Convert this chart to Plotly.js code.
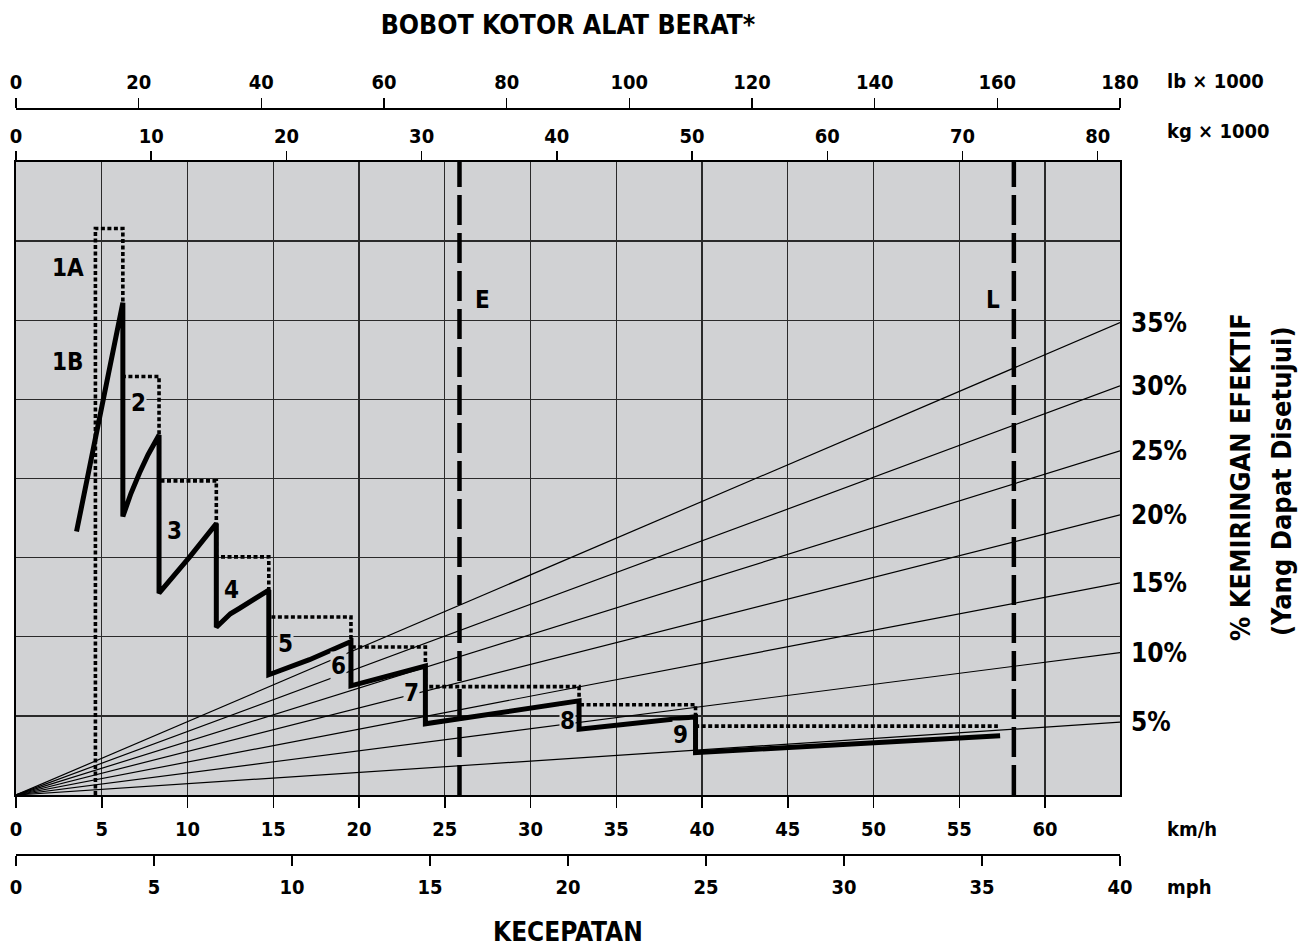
<!DOCTYPE html>
<html>
<head>
<meta charset="utf-8">
<script src="https://cdn.plot.ly/plotly-3.0.1.min.js"></script>
<style>html,body{margin:0;padding:0;background:#fff;}#chart{width:1304px;height:949px;}</style>
</head>
<body>
<div id="chart"></div>
<script>
// ---------- DATA ----------
// tick labels of the four scales
const kmhTicks = [0, 5, 10, 15, 20, 25, 30, 35, 40, 45, 50, 55, 60];
const mphTicks = [0, 5, 10, 15, 20, 25, 30, 35, 40];
const kgTicks  = [0, 10, 20, 30, 40, 50, 60, 70, 80];
const lbTicks  = [0, 20, 40, 60, 80, 100, 120, 140, 160, 180];

// scale extents (40 mph = 64.37 km/h ; 180 000 lb = 81.65 t)
const kmhMax = 64.37, mphMax = 40, kgMax = 81.65, lbMax = 180;

// solid curve (gears 1B..9): speed km/h, force in grid units
const solidSpeed   = [3.53, 6.23, 6.23, 6.7, 7.2, 7.7, 8.34, 8.34, 10.13, 11.68, 11.68, 12.1, 12.5, 13.04, 13.9, 14.74, 14.74, 17.11, 19.53, 19.53, 23.87, 23.87, 32.83, 32.83, 39.62, 39.62, 57.38];
const solidForce   = [3.33, 6.22, 3.52, 3.81, 4.07, 4.30, 4.55, 2.55, 3.01, 3.43, 2.12, 2.21, 2.29, 2.36, 2.48, 2.59, 1.52, 1.71, 1.94, 1.38, 1.63, 0.90, 1.19, 0.83, 0.99, 0.535, 0.75];

// dotted curve (1A and the upper steps)
const dottedSpeed  = [4.63, 4.63, 6.23, 6.23, 8.34, 8.34, 11.68, 11.68, 14.74, 14.74, 19.53, 19.53, 23.87, 23.87, 32.83, 32.83, 39.62, 39.62, 57.25];
const dottedForce  = [0, 7.16, 7.16, 5.29, 5.29, 3.97, 3.97, 3.01, 3.01, 2.25, 2.25, 1.87, 1.87, 1.37, 1.37, 1.14, 1.14, 0.87, 0.87];

// effective grade lines: value reached at the right edge (max weight)
const gradeLabels  = ['5%', '10%', '15%', '20%', '25%', '30%', '35%'];
const gradeForceAtMax = [0.92, 1.80, 2.68, 3.54, 4.35, 5.17, 5.97];

// weight markers (kg x 1000)
const weightNames = ['E', 'L'];
const weightKg    = [32.8, 73.8];

// gear labels
const gearNames = ['1A', '1B', '2', '3', '4', '5', '6', '7', '8', '9'];
const gearLabelSpeed = [3.03, 3.03, 7.16, 9.25, 12.57, 15.72, 18.8, 23.05, 32.13, 38.77];
const gearLabelForce = [6.66, 5.47, 4.96, 3.34, 2.59, 1.91, 1.63, 1.29, 0.94, 0.76];

// ---------- STYLE ----------
const FONT = '"Liberation Sans Narrow", "DejaVu Sans Condensed", "Roboto", sans-serif';
const BG = '#d1d2d4';
const GRID = '#2a2a2a';
const tf = {family: FONT, size: 20, color: '#000', weight: 'bold'};

const traces = [];
// grade lines on the weight (lb) scale
gradeForceAtMax.forEach((v, i) => {
  traces.push({x: [0, lbMax], y: [0, v], xaxis: 'x3', yaxis: 'y', mode: 'lines',
    line: {color: '#000', width: 1.2}, hoverinfo: 'skip', showlegend: false});
});
// E / L weight lines (kg scale)
weightKg.forEach((w, i) => {
  traces.push({x: [w, w], y: [0, 8], xaxis: 'x4', yaxis: 'y', mode: 'lines',
    line: {color: '#000', width: 4.5, dash: '30px,8px'}, hoverinfo: 'skip', showlegend: false});
});
// empty trace so the mph scale is drawn
traces.push({x: [], y: [], xaxis: 'x2', yaxis: 'y', mode: 'lines', hoverinfo: 'skip', showlegend: false});
// dotted curve
traces.push({x: dottedSpeed, y: dottedForce, xaxis: 'x', yaxis: 'y', mode: 'lines',
  line: {color: '#000', width: 3.6, dash: '4px,2.5px'}, hoverinfo: 'skip', showlegend: false});
// solid curve
traces.push({x: solidSpeed, y: solidForce, xaxis: 'x', yaxis: 'y', mode: 'lines',
  line: {color: '#000', width: 5}, hoverinfo: 'skip', showlegend: false});

// plot area rows: 162..795 px ; paper 40..909 px
const PT = 40, PB = 40, H = 949, W = 1304, L = 16, R = 184;
const paperH = H - PT - PB, paperW = W - L - R;
const py = px => (H - PB - px) / paperH;   // pixel row -> paper y
const pxX = px => (px - L) / paperW;        // pixel col -> paper x

const annotations = [];
gearNames.forEach((g, i) => {
  annotations.push({x: gearLabelSpeed[i], y: gearLabelForce[i], xref: 'x', yref: 'y', text: g,
    showarrow: false, xanchor: 'center', yanchor: 'middle',
    font: {family: FONT, size: 24, color: '#000', weight: 'bold'}, bgcolor: BG, borderpad: 0});
});
// E / L labels
annotations.push({x: weightKg[0], y: 6.26, xref: 'x4', yref: 'y', text: weightNames[0], showarrow: false,
  xanchor: 'left', yanchor: 'middle', xshift: 14, font: {family: FONT, size: 24, color: '#000', weight: 'bold'}});
annotations.push({x: weightKg[1], y: 6.26, xref: 'x4', yref: 'y', text: weightNames[1], showarrow: false,
  xanchor: 'right', yanchor: 'middle', xshift: -12, font: {family: FONT, size: 24, color: '#000', weight: 'bold'}});
// grade labels on the right
gradeLabels.forEach((t, i) => {
  annotations.push({x: pxX(1129), y: gradeForceAtMax[i], xref: 'paper', yref: 'y', text: t,
    showarrow: false, xanchor: 'left', yanchor: 'middle', font: {family: FONT, size: 26, color: '#000', weight: 'bold'}});
});
// units
const unitFont = {family: FONT, size: 20, color: '#000', weight: 'bold'};
[['lb × 1000', 81], ['kg × 1000', 131], ['km/h', 829], ['mph', 887]].forEach(u => {
  annotations.push({x: pxX(1165), y: py(u[1]), xref: 'paper', yref: 'paper', text: u[0],
    showarrow: false, xanchor: 'left', yanchor: 'middle', font: unitFont});
});
// axis titles
annotations.push({x: 0.5, y: py(932), xref: 'paper', yref: 'paper', text: 'KECEPATAN',
  showarrow: false, xanchor: 'center', yanchor: 'middle', font: {family: FONT, size: 26, color: '#000', weight: 'bold'}});
annotations.push({x: pxX(1240), y: py(477), xref: 'paper', yref: 'paper', text: '% KEMIRINGAN EFEKTIF',
  showarrow: false, xanchor: 'center', yanchor: 'middle', textangle: -90,
  font: {family: FONT, size: 27, color: '#000', weight: 'bold'}});
annotations.push({x: pxX(1281), y: py(481), xref: 'paper', yref: 'paper', text: '(Yang Dapat Disetujui)',
  showarrow: false, xanchor: 'center', yanchor: 'middle', textangle: -90,
  font: {family: FONT, size: 27, color: '#000', weight: 'bold'}});

const layout = {
  width: W, height: H,
  margin: {l: L, r: R, t: PT, b: PB, pad: 0},
  paper_bgcolor: '#fff', plot_bgcolor: BG,
  showlegend: false,
  title: {text: 'BOBOT KOTOR ALAT BERAT*', x: 0.5, xref: 'paper', xanchor: 'center',
    y: 1 - 25 / H, yref: 'container', yanchor: 'middle',
    font: {family: FONT, size: 26.5, color: '#000', weight: 'bold'}},
  yaxis: {domain: [py(795), py(162)], range: [0, 8], dtick: 1, tick0: 0, showticklabels: false,
    ticks: '', showgrid: true, gridcolor: GRID, gridwidth: 1.4, zeroline: false,
    showline: true, mirror: true, linecolor: '#000', linewidth: 2, fixedrange: true},
  xaxis: {range: [0, kmhMax], tickmode: 'array', tickvals: kmhTicks, ticktext: kmhTicks.map(String),
    ticks: 'outside', ticklen: 11, tickwidth: 1.5, tickcolor: '#000', tickfont: tf, ticklabelstandoff: 4,
    showgrid: true, gridcolor: GRID, gridwidth: 1.4, zeroline: false,
    showline: true, mirror: true, linecolor: '#000', linewidth: 2, fixedrange: true},
  xaxis2: {overlaying: 'x', anchor: 'free', position: py(855), side: 'bottom', range: [0, mphMax],
    tickmode: 'array', tickvals: mphTicks, ticks: 'outside', ticklen: 10, tickwidth: 1.5, tickcolor: '#000',
    tickfont: tf, ticklabelstandoff: 4, showgrid: false, zeroline: false, showline: true, linecolor: '#000', linewidth: 2, fixedrange: true},
  xaxis3: {overlaying: 'x', anchor: 'free', position: py(109), side: 'top', range: [0, lbMax],
    tickmode: 'array', tickvals: lbTicks, ticks: 'outside', ticklen: 10, tickwidth: 1.5, tickcolor: '#000',
    tickfont: tf, ticklabelstandoff: 1, showgrid: false, zeroline: false, showline: true, linecolor: '#000', linewidth: 2, fixedrange: true},
  xaxis4: {overlaying: 'x', anchor: 'y', side: 'top', range: [0, kgMax],
    tickmode: 'array', tickvals: kgTicks, ticks: 'outside', ticklen: 10, tickwidth: 1.5, tickcolor: '#000',
    tickfont: tf, ticklabelstandoff: 0, showgrid: false, zeroline: false, showline: false, fixedrange: true},
  annotations: annotations
};

Plotly.newPlot('chart', traces, layout, {displayModeBar: false, staticPlot: true});
</script>
</body>
</html>
